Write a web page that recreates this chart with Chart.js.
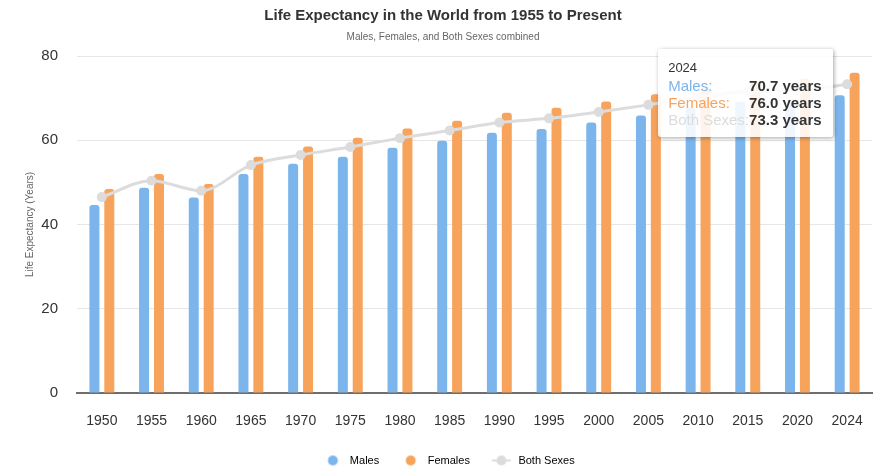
<!DOCTYPE html>
<html>
<head>
<meta charset="utf-8">
<script src="https://cdn.jsdelivr.net/npm/chart.js@4/dist/chart.umd.min.js"></script>
<style>
  html, body { margin: 0; padding: 0; background: #fff; }
  #wrap { position: relative; width: 886px; height: 472px; }
  #tip {
    position: absolute; box-sizing: border-box;
    background: rgba(255,255,255,0.88);
    border-radius: 3px;
    box-shadow: 1px 1px 4px rgba(0,0,0,0.35);
    padding: 10px 11px 9px 10px;
    font-family: "Liberation Sans", Arial, sans-serif;
    color: #333; white-space: nowrap; pointer-events: none;
  }
  #tip .t { font-size: 13px; line-height: 18px; }
  #tip table { border-collapse: collapse; border-spacing: 0; }
  #tip td { padding: 0; font-size: 15px; line-height: 17px; }
  #tip td.v { font-weight: bold; text-align: right; color: #333; }
</style>
</head>
<body>
<div id="wrap"><canvas id="c" width="886" height="472"></canvas><div id="tip"></div></div>
<script>
const years = ["1950","1955","1960","1965","1970","1975","1980","1985","1990","1995","2000","2005","2010","2015","2020","2024"];
const males = [44.6, 48.7, 46.4, 52.0, 54.4, 56.1, 58.2, 59.9, 61.8, 62.7, 64.2, 65.9, 67.8, 69.2, 68.4, 70.7];
const females = [48.4, 52.0, 49.6, 56.1, 58.5, 60.6, 62.8, 64.6, 66.5, 67.7, 69.2, 70.9, 72.6, 74.0, 74.6, 76.0];
const bothSexes = [46.5, 50.4, 48.0, 54.1, 56.5, 58.4, 60.5, 62.3, 64.2, 65.2, 66.7, 68.4, 70.2, 71.6, 71.8, 73.3];
const yTicks = [0, 20, 40, 60, 80];
const seriesNames = ["Males", "Females", "Both Sexes"];
const tooltipIndex = 15;

const cMale = "#7cb5ec", cFemale = "#f7a35c", cBoth = "#dcdcdc";
const FONT = "'Liberation Sans', Arial, sans-serif";

function markerCanvas(color, withLine) {
  const cv = document.createElement("canvas");
  cv.width = 23; cv.height = 12;
  const g = cv.getContext("2d");
  if (withLine) {
    g.strokeStyle = color; g.lineWidth = 2;
    g.beginPath(); g.moveTo(2, 6); g.lineTo(21, 6); g.stroke();
  }
  g.fillStyle = color;
  g.beginPath(); g.arc(11.5, 6, 5, 0, Math.PI * 2); g.fill();
  return cv;
}
const legendMarkers = [markerCanvas(cMale, false), markerCanvas(cFemale, false), markerCanvas(cBoth, true)];

const legendShift = {
  id: "legendShift",
  afterLayout(chart) {
    if (chart.legend) { chart.legend.left += 5; chart.legend.right += 5; }
  }
};

const tipPlugin = {
  id: "fixedTip",
  afterRender(chart) {
    const el = document.getElementById("tip");
    if (el.dataset.done) return;
    el.dataset.done = "1";
    const i = tooltipIndex;
    const rows = [[seriesNames[0], cMale, males[i]], [seriesNames[1], cFemale, females[i]], [seriesNames[2], cBoth, bothSexes[i]]];
    let html = '<div class="t">' + years[i] + '</div><table>';
    rows.forEach(r => {
      html += '<tr><td style="color:' + r[1] + '">' + r[0] + ':</td><td class="v">' + r[2].toFixed(1) + ' years</td></tr>';
    });
    html += '</table>';
    el.innerHTML = html;
    const px = chart.scales.x.getPixelForValue(i);
    const w = el.offsetWidth;
    el.style.left = (px - 15 - w) + "px";
    el.style.top = (chart.chartArea.top - 7) + "px";
  }
};

new Chart(document.getElementById("c"), {
  data: {
    labels: years,
    datasets: [
      { type: "line", label: seriesNames[2], data: bothSexes, order: 0,
        borderColor: cBoth, backgroundColor: cBoth, borderWidth: 3,
        pointRadius: 5, pointHoverRadius: 5, pointBackgroundColor: cBoth, pointBorderWidth: 0,
        tension: 0.35, cubicInterpolationMode: "monotone" },
      { type: "bar", label: seriesNames[0], data: males, order: 1,
        backgroundColor: cMale, hoverBackgroundColor: cMale,
        borderRadius: { topLeft: 3, topRight: 3 }, borderSkipped: "bottom",
        categoryPercentage: 0.6, barPercentage: 0.67 },
      { type: "bar", label: seriesNames[1], data: females, order: 2,
        backgroundColor: cFemale, hoverBackgroundColor: cFemale,
        borderRadius: { topLeft: 3, topRight: 3 }, borderSkipped: "bottom",
        categoryPercentage: 0.6, barPercentage: 0.67 }
    ]
  },
  options: {
    responsive: false,
    animation: false,
    events: [],
    layout: { padding: { left: 14, right: 14, top: 0, bottom: -4 } },
    scales: {
      x: {
        grid: { display: false, drawTicks: false },
        border: { display: true, color: "#6e6e6e", width: 2 },
        ticks: { color: "#333", font: { family: FONT, size: 14 }, padding: 20, maxRotation: 0, autoSkip: false },
        afterFit: (axis) => { axis.height = 42; }
      },
      y: {
        min: 0, max: 80,
        afterBuildTicks: (axis) => { axis.ticks = yTicks.map(v => ({ value: v })); },
        grid: { color: "#e6e6e6", drawTicks: false },
        border: { display: false },
        ticks: { color: "#333", font: { family: FONT, size: 15 }, padding: 19 },
        title: { display: true, text: "Life Expectancy (Years)", color: "#666",
                 font: { family: FONT, size: 10 }, padding: { top: 10, bottom: 5 } },
        afterFit: (axis) => { axis.width = 63; }
      }
    },
    plugins: {
      title: { display: true, text: "Life Expectancy in the World from 1955 to Present",
               color: "#333", font: { family: FONT, size: 15, weight: "bold" }, padding: { top: 7, bottom: 3 } },
      subtitle: { display: true, text: "Males, Females, and Both Sexes combined",
                  color: "#666", font: { family: FONT, size: 10 }, padding: { top: 3, bottom: 13 } },
      legend: {
        position: "bottom",
        labels: {
          color: "#333", font: { family: FONT, size: 11 },
          usePointStyle: true, pointStyleWidth: 23, padding: 20,
          generateLabels: () => seriesNames.map((n, k) => ({
            text: n, pointStyle: legendMarkers[k], fillStyle: "transparent",
            strokeStyle: "transparent", lineWidth: 0, hidden: false, datasetIndex: k
          }))
        }
      },
      tooltip: { enabled: false }
    }
  },
  plugins: [legendShift, tipPlugin]
});
</script>
</body>
</html>
